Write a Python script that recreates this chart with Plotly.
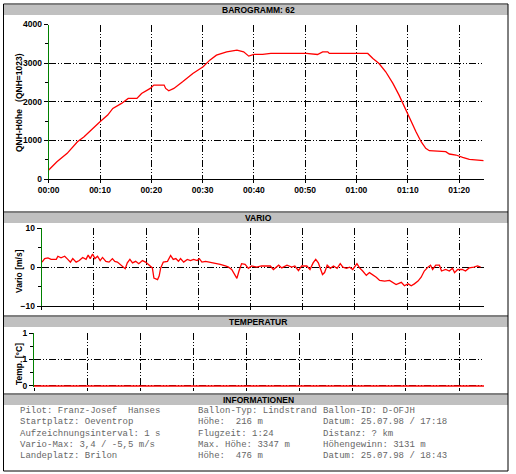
import plotly.graph_objects as go

W, H = 516, 474

# --- data ---
baro_min = [0, 1.6, 3.6, 5.6, 6.9, 8.2, 10, 11.5, 12.5, 14.2, 15.5, 17.2, 18.1, 19.8, 20.5,
            22.5, 22.8, 23.4, 24.4, 26.1, 28.1, 30.1, 31.4, 32.7, 34.7, 36.7, 38.0, 39.0,
            40.0, 41.7, 43.3, 50.2, 52.4, 53.4, 54.4, 54.7, 59.9, 62.2, 63.2, 64.4, 65.7,
            67.1, 68.3, 69.3, 70.3, 71.6, 72.6, 73.5, 74.2, 77.4, 78.1, 79.4, 80.7, 82.0, 84.8]
baro_alt = [233, 448, 664, 965, 1095, 1267, 1483, 1655, 1827, 1957, 2086, 2086, 2215, 2345, 2431,
            2431, 2345, 2284, 2345, 2517, 2733, 2905, 3077, 3207, 3293, 3336, 3293, 3181,
            3224, 3224, 3250, 3250, 3224, 3293, 3293, 3250, 3250, 3250, 3120, 2991, 2776,
            2474, 2172, 1871, 1569, 1224, 965, 793, 733, 707, 647, 621, 560, 509, 474]

vario_min = [0.06, 0.57, 1.2, 1.8, 2.8, 3.1, 3.7, 4.4, 5.0, 5.5, 5.95, 6.6, 7.2, 7.85, 8.5, 8.9,
             9.3, 9.75, 10.2, 10.7, 11.2, 11.65, 12.3, 12.9, 13.55, 14.0, 14.5, 15.1, 15.6, 16.0,
             16.4, 16.9, 17.4, 18.0, 18.6, 19.3, 19.9, 20.5, 21.2, 21.5, 22.2, 22.5, 22.8, 23.3,
             24.1, 24.7, 25.2, 25.7, 26.2, 26.6, 27.2, 27.9, 28.5, 29.1, 29.8, 30.2, 30.7, 31.4,
             32.3, 33.3, 34.2, 35.2, 35.8, 36.4, 36.9, 37.4, 37.8, 38.3, 38.97, 39.6, 40.2, 41.2,
             42.1, 43.8, 44.4, 45.4, 46.0, 47.0, 47.9, 48.5, 49.2, 49.8, 50.8, 51.4, 52.0, 52.5,
             53.0, 53.4, 53.8, 54.2, 54.7, 55.3, 55.9, 56.6, 57.2, 57.7, 58.4, 59.0, 59.6, 60.4,
             60.9, 61.5, 62.2, 62.8, 63.4, 64.1, 64.75, 65.7, 66.65, 67.3, 67.9, 68.9, 69.5, 70.2,
             70.8, 71.4, 72.1, 72.7, 73.3, 74.0, 74.5, 74.9, 75.5, 76.2, 76.6, 77.4, 78.1, 78.7,
             79.1, 79.7, 80.6, 81.2, 81.9, 82.8, 83.5, 84.1]
vario_val = [1.3, 2.2, 2.4, 2.0, 2.0, 2.8, 2.4, 2.8, 2.0, 1.3, 2.2, 1.3, 1.7, 2.5, 2.0, 3.1,
             2.2, 3.4, 2.2, 2.8, 1.7, 2.5, 1.5, 1.3, 2.2, 1.5, 1.3, 0.7, 0.0, -0.4,
             1.1, 2.0, 1.1, 1.5, 0.9, 1.7, 1.3, 0.7, -0.2, -2.8, -3.2, -2.3, -0.2, 1.3,
             1.5, 3.0, 2.0, 2.2, 1.5, 2.2, 1.3, 2.0, 1.7, 2.0, 1.7, 2.2, 1.3, 1.5,
             1.3, 0.9, 0.7, 0.3, 0.0, -0.6, -1.7, -2.9, -1.0, 0.9, 0.7, -0.3, 0.3, 0.0,
             0.3, 0.3, -0.6, 0.5, -0.2, 0.5, 0.0, 0.3, -0.9, 0.3, 0.3, -0.6, 1.1, 2.0,
             1.1, -0.6, -1.9, -1.4, 0.5, -0.3, 0.3, -0.3, 0.9, 0.0, -0.3, 0.0, -0.6, 0.9,
             -0.2, -1.0, -2.1, -1.4, -1.9, -2.6, -3.4, -3.6, -3.4, -4.0, -4.5, -3.9, -4.8, -4.3,
             -4.8, -4.3, -3.6, -2.6, -1.0, 0.0, 0.5, -0.6, 0.5, 0.5, -1.0, -0.6, -1.0, -0.3,
             -1.4, -0.6, -0.6, -1.0, -0.2, 0.0, 0.3, 0.0]

temp_min = [0, 84.7]
temp_val = [0, 0]

time_ticks = [0, 10, 20, 30, 40, 50, 60, 70, 80]
time_labels = ["00:00", "00:10", "00:20", "00:30", "00:40", "00:50", "01:00", "01:10", "01:20"]

info_rows = [
    ["Pilot: Franz-Josef\u00a0\u00a0Hanses", "Ballon-Typ: Lindstrand", "Ballon-ID: D-OFJH"],
    ["Startplatz: Oeventrop", "Höhe:\u00a0\u00a0216 m", "Datum: 25.07.98 / 17:18"],
    ["Aufzeichnungsinterval: 1 s", "Flugzeit: 1:24", "Distanz: ? km"],
    ["Vario-Max: 3,4 / -5,5 m/s", "Max. Höhe: 3347 m", "Höhengewinn: 3131 m"],
    ["Landeplatz: Brilon", "Höhe:\u00a0\u00a0476 m", "Datum: 25.07.98 / 18:43"],
]


def px(x):
    return x / W


def py(y):
    return 1 - y / H


RED = "#ff0000"
GREEN = "#008000"
GRID = "7px,2px,1px,2px,1px,2px"
TICKFONT = dict(family="Liberation Sans", size=8.5, color="black", weight="bold")

fig = go.Figure()
fig.add_trace(go.Scatter(x=baro_min, y=baro_alt, mode="lines", line=dict(color=RED, width=1.3),
                         xaxis="x", yaxis="y", showlegend=False, hoverinfo="skip"))
fig.add_trace(go.Scatter(x=vario_min, y=vario_val, mode="lines", line=dict(color=RED, width=1.3),
                         xaxis="x2", yaxis="y2", showlegend=False, hoverinfo="skip"))
fig.add_trace(go.Scatter(x=temp_min, y=temp_val, mode="lines", line=dict(color=RED, width=1.5),
                         xaxis="x3", yaxis="y3", showlegend=False, hoverinfo="skip"))

xcommon = dict(range=[0, 84.8], showgrid=True, gridcolor="black", griddash=GRID, gridwidth=1,
               zeroline=False, ticks="outside", ticklen=3, tickcolor="black",
               tickvals=time_ticks, tickfont=TICKFONT, fixedrange=True, automargin=False)
ycommon = dict(showgrid=True, gridcolor="black", griddash=GRID, gridwidth=1, zeroline=False,
               showline=True, linecolor=GREEN, linewidth=1, ticks="outside", ticklen=4,
               tickcolor="black", tickfont=TICKFONT, fixedrange=True, automargin=False)

fig.update_layout(
    template="none",
    width=W, height=H, margin=dict(l=0, r=0, t=0, b=0, pad=0, autoexpand=False),
    paper_bgcolor="white", plot_bgcolor="white",
    xaxis=dict(xcommon, domain=[px(48.7), px(483.7)], anchor="y", ticktext=time_labels,
               showline=True, linecolor="black"),
    yaxis=dict(ycommon, domain=[py(179), py(24.5)], anchor="x", range=[0, 4000],
               tickvals=[0, 1000, 2000, 3000, 4000],
               minor=dict(ticks="outside", ticklen=3, dtick=500, tickcolor="black", showgrid=False)),
    xaxis2=dict(xcommon, domain=[px(41.7), px(484.3)], anchor="y2", showticklabels=False,
                showline=True, linecolor="black"),
    yaxis2=dict(ycommon, domain=[py(306), py(228.3)], anchor="x2", range=[-10, 10],
                tickvals=[-10, 0, 10],
                minor=dict(ticks="outside", ticklen=3, dtick=5, tickcolor="black", showgrid=False)),
    xaxis3=dict(xcommon, domain=[px(34), px(484)], anchor="y3", range=[0, 84.7],
                showticklabels=False, showline=False),
    # a hair below zero so the flat red temperature line is not clipped in half
    yaxis3=dict(ycommon, domain=[py(387), py(333)], anchor="x3", range=[-0.02, 1],
                tickvals=[0, 0.5, 1], ticktext=["0", "1", "1"],
                minor=dict(ticks="outside", ticklen=3, tick0=0, dtick=0.25, tickcolor="black",
                           showgrid=False)),
)

shapes = []
# gray title bars
for y0, y1 in [(5, 15), (213, 223), (317, 327), (395, 405)]:
    shapes.append(dict(type="rect", xref="paper", yref="paper", x0=px(4), x1=px(508),
                       y0=py(y1), y1=py(y0), fillcolor="#c0c0c0", line=dict(width=0), layer="below"))
# separators between panels
for y in [212, 316, 394]:
    shapes.append(dict(type="line", xref="paper", yref="paper", x0=px(3.5), x1=px(508),
                       y0=py(y), y1=py(y), line=dict(color="black", width=1)))
# outer frame
shapes.append(dict(type="rect", xref="paper", yref="paper", x0=px(3.5), x1=px(508),
                   y0=py(471), y1=py(4), line=dict(color="black", width=1)))

annotations = []
TITLEFONT = dict(family="Liberation Sans", size=8.5, color="black", weight="bold")
for text, y in [("BAROGRAMM: 62", 10), ("VARIO", 218), ("TEMPERATUR", 322), ("INFORMATIONEN", 400)]:
    annotations.append(dict(text=text, x=px(258), y=py(y), xref="paper", yref="paper",
                            showarrow=False, font=TITLEFONT, xanchor="center", yanchor="middle"))
for text, y in [("QNH-Höhe\u00a0\u00a0\u00a0(QNH=1023)", 103), ("Vario [m/s]", 271), ("Temp. [°C]", 364)]:
    annotations.append(dict(text=text, x=px(19), y=py(y), xref="paper", yref="paper",
                            showarrow=False, font=TITLEFONT, textangle=-90,
                            xanchor="center", yanchor="middle"))

INFOFONT = dict(family="Liberation Mono", size=9, color="#666666")
col_x = [18, 196, 321]
for i, row in enumerate(info_rows):
    for j, text in enumerate(row):
        annotations.append(dict(text=text, x=px(col_x[j]), y=py(411 + i * 11.3), xref="paper",
                                yref="paper", showarrow=False, font=INFOFONT,
                                xanchor="left", yanchor="middle"))

fig.update_layout(shapes=shapes, annotations=annotations)

# page body margin would otherwise push the figure off the window
fig.write_html("out.html", config={"displayModeBar": False},
               post_script="document.body.style.margin='0';document.body.style.overflow='hidden';")
